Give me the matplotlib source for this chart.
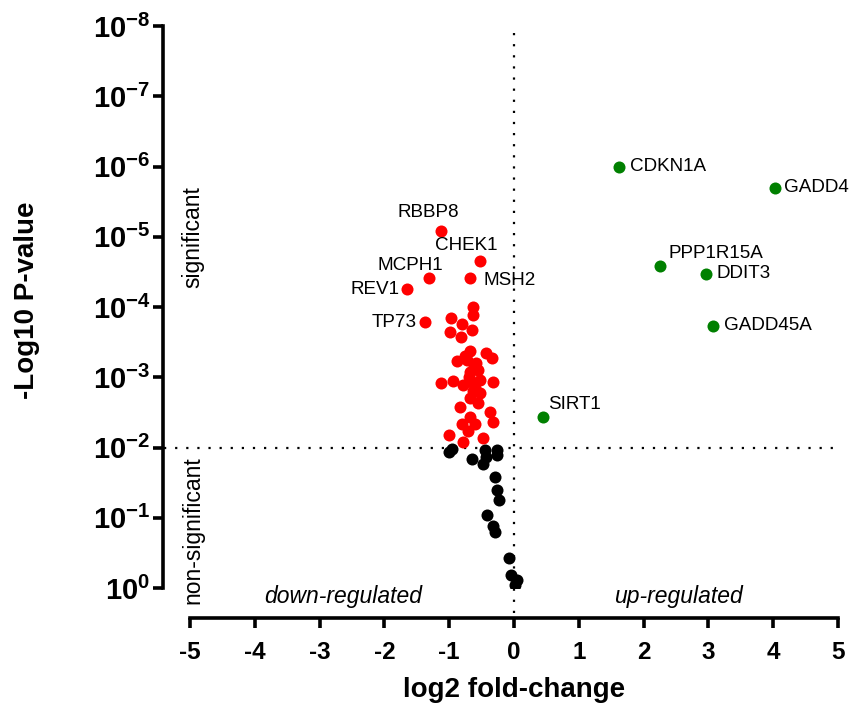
import numpy as np
import matplotlib
matplotlib.use("Agg")
import matplotlib.pyplot as plt

plt.rcParams['font.family'] = ['Liberation Sans', 'DejaVu Sans']
plt.rcParams['mathtext.fontset'] = 'custom'
plt.rcParams['mathtext.rm'] = 'Liberation Sans:bold'
plt.rcParams['mathtext.bf'] = 'Liberation Sans:bold'
plt.rcParams['axes.unicode_minus'] = False

# down-regulated, significant (log2 FC, log10 p)
down_fc = [-0.64, -0.64, -0.97, -0.81, -0.99, -0.65, -0.82, -0.68, -0.43, -0.34,
           -0.88, -0.73, -0.58, -0.68, -0.55, -1.12, -0.94, -0.78, -0.65, -0.52,
           -0.32, -0.63, -0.52, -0.68, -0.55, -0.37, -0.83, -0.68, -0.81, -0.60,
           -0.33, -0.71, -1.00, -0.48, -0.79, -0.62, -0.70, -0.60, -0.75]
down_logp = [-4.00, -3.88, -3.84, -3.76, -3.65, -3.67, -3.57, -3.38, -3.35, -3.27,
             -3.23, -3.24, -3.20, -3.08, -3.10, -2.92, -2.95, -2.89, -2.93, -2.96,
             -2.93, -2.81, -2.77, -2.70, -2.63, -2.51, -2.57, -2.44, -2.34, -2.34,
             -2.36, -2.24, -2.18, -2.13, -2.08, -3.15, -3.00, -2.85, -3.30]

# non-significant
ns_fc = [-0.96, -1.00, -0.65, -0.45, -0.43, -0.48, -0.26, -0.26, -0.29, -0.26,
         -0.23, -0.41, -0.32, -0.29, -0.07, -0.04, 0.04, 0.02]
ns_logp = [-1.98, -1.94, -1.84, -1.96, -1.86, -1.77, -1.96, -1.90, -1.58, -1.40,
           -1.25, -1.04, -0.88, -0.80, -0.43, -0.19, -0.11, -0.04]

# labelled down-regulated genes
down_genes = ['RBBP8', 'CHEK1', 'MCPH1', 'MSH2', 'REV1', 'TP73']
down_gene_fc = [-1.13, -0.52, -1.31, -0.68, -1.65, -1.38]
down_gene_logp = [-5.08, -4.65, -4.41, -4.41, -4.25, -3.78]

# labelled up-regulated genes
up_genes = ['CDKN1A', 'GADD4', 'PPP1R15A', 'DDIT3', 'GADD45A', 'SIRT1']
up_gene_fc = [1.62, 4.03, 2.26, 2.96, 3.07, 0.44]
up_gene_logp = [-6.00, -5.70, -4.59, -4.47, -3.73, -2.43]

y_ticks = [-8, -7, -6, -5, -4, -3, -2, -1, 0]
x_ticks = [-5, -4, -3, -2, -1, 0, 1, 2, 3, 4, 5]

# label offsets in pixels (dx, dy, ha, va)
label_pos = {
    'RBBP8': (-12, 10, 'center', 'bottom'),
    'CHEK1': (-14, 7, 'center', 'bottom'),
    'MCPH1': (-19, 4, 'center', 'bottom'),
    'MSH2': (14, -2, 'left', 'center'),
    'REV1': (-8, 0, 'right', 'center'),
    'TP73': (-8, 0, 'right', 'center'),
    'CDKN1A': (11, 0, 'left', 'center'),
    'GADD4': (9, 0, 'left', 'center'),
    'PPP1R15A': (8, 4, 'left', 'bottom'),
    'DDIT3': (11, 0, 'left', 'center'),
    'GADD45A': (11, 0, 'left', 'center'),
    'SIRT1': (6, 4, 'left', 'bottom'),
}

fig = plt.figure(figsize=(8.5, 7.13), dpi=100)
ax = fig.add_axes([190 / 850, 1 - 588 / 713, 648 / 850, 562 / 713])

ms = 75
ax.scatter(ns_fc, 10.0 ** np.array(ns_logp), s=ms, c='black', zorder=3, linewidths=0)
ax.scatter(down_fc, 10.0 ** np.array(down_logp), s=ms, c='#ff0000', zorder=3, linewidths=0)
ax.scatter(down_gene_fc, 10.0 ** np.array(down_gene_logp), s=ms, c='#ff0000', zorder=3, linewidths=0)
ax.scatter(up_gene_fc, 10.0 ** np.array(up_gene_logp), s=ms, c='#008000', zorder=3, linewidths=0)

for names, xs, ys in [(down_genes, down_gene_fc, down_gene_logp), (up_genes, up_gene_fc, up_gene_logp)]:
    for n, x, y in zip(names, xs, ys):
        dx, dy, ha, va = label_pos[n]
        ax.annotate(n, (x, 10.0 ** y), xytext=(dx * 0.72, dy * 0.72), textcoords='offset points',
                    ha=ha, va=va, fontsize=13.6, annotation_clip=False)

ax.set_yscale('log')
ax.set_ylim(1, 1e-8)
ax.set_xlim(-5, 5)

# threshold lines
ax.axvline(0, ymin=-0.045, ymax=1.0, color='black', lw=1.6, ls=(0, (1, 4)), clip_on=False, zorder=1)
ax.axhline(0.01, xmin=-0.04, xmax=1.0, color='black', lw=1.6, ls=(0, (1, 4)), clip_on=False, zorder=1)

ax.set_yticks([10.0 ** t for t in y_ticks])
ax.set_yticklabels(['$10^{%d}$' % t for t in y_ticks])
ax.yaxis.set_minor_locator(matplotlib.ticker.NullLocator())
ax.set_xticks(x_ticks)
ax.set_xticklabels([str(t) for t in x_ticks])

for s in ['top', 'right']:
    ax.spines[s].set_visible(False)
ax.spines['left'].set_position(('outward', 19.5))
ax.spines['bottom'].set_position(('outward', 21.5))
ax.spines['left'].set_linewidth(2.6)
ax.spines['bottom'].set_linewidth(2.6)
ax.tick_params(axis='both', width=2.6, length=7)
ax.tick_params(axis='y', labelsize=21, pad=2)
ax.tick_params(axis='x', labelsize=17.5, pad=10)
for lbl in ax.get_xticklabels():
    lbl.set_fontweight('bold')

ax.set_ylabel('-Log10 P-value', fontsize=20, fontweight='bold')
ax.yaxis.set_label_coords(-0.232, 0.512)
ax.set_xlabel('log2 fold-change', fontsize=20, fontweight='bold')
ax.xaxis.set_label_coords(0.5, -0.182)
ax.xaxis.label.set_va('center')

ax.text(0.005, 0.625, 'significant', rotation=90, ha='center', va='center', fontsize=16.5, transform=ax.transAxes)
ax.text(0.005, 0.103, 'non-significant', rotation=90, ha='center', va='center', fontsize=16.5, transform=ax.transAxes)
ax.text(0.236, -0.016, 'down-regulated', style='italic', ha='center', va='center', fontsize=16.5, transform=ax.transAxes)
ax.text(0.753, -0.016, 'up-regulated', style='italic', ha='center', va='center', fontsize=16.5, transform=ax.transAxes)

fig.savefig('out.png', dpi=100)
